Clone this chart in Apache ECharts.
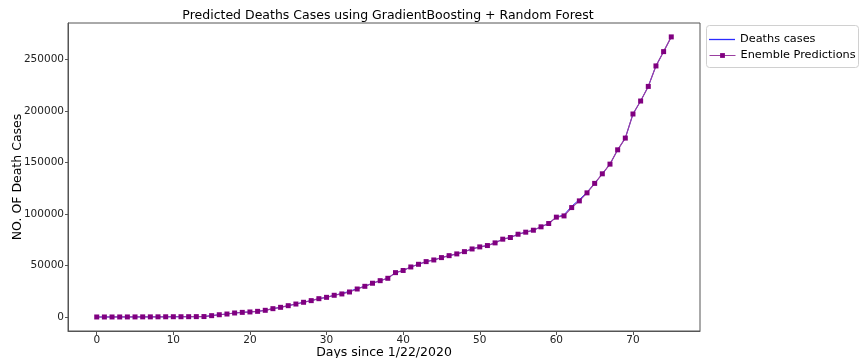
<!DOCTYPE html>
<html>
<head>
<meta charset="utf-8">
<script src="https://cdn.jsdelivr.net/npm/echarts@6/dist/echarts.min.js"></script>
<style>
  html, body { margin: 0; padding: 0; background: #fff; }
  #chart { width: 860px; height: 358px; }
</style>
</head>
<body>
<div id="chart"></div>
<script>
// Day index since 1/22/2020
const days = Array.from({ length: 76 }, (_, i) => i);

// Reported cumulative deaths
const deathsCases = [
  20, 20, 30, 40, 60, 80, 130, 130, 170, 210,
  260, 260, 300, 360, 430, 1300, 2200, 2900, 3900, 4500,
  4900, 5500, 6500, 8100, 9400, 11000, 12600, 14300, 15900, 17800,
  19100, 21100, 22900, 25000, 27600, 29900, 32800, 35300, 37600, 43100,
  45200, 48600, 51200, 53800, 55400, 57700, 59600, 61300, 63500, 66100,
  68100, 69400, 72000, 75600, 77200, 80400, 82400, 84300, 87600, 90800,
  97000, 99200, 107600, 114000, 121200, 129800, 139100, 148500, 162400, 173800,
  197200, 209800, 224000, 243900, 257800, 272100
];

// Ensemble (GradientBoosting + Random Forest) predictions
const ensemblePredictions = [
  20, 20, 30, 40, 60, 80, 130, 130, 170, 210,
  260, 260, 300, 360, 430, 1300, 2200, 2900, 3900, 4500,
  4900, 5500, 6500, 8100, 9400, 11000, 12600, 14300, 15900, 17800,
  19100, 21100, 22400, 24300, 27200, 29800, 32800, 35300, 37600, 43100,
  45200, 48600, 51200, 53800, 55400, 57700, 59600, 61300, 63500, 66100,
  68100, 69400, 72000, 75600, 77200, 80400, 82400, 84300, 87600, 90800,
  97000, 98200, 106300, 112800, 120600, 129800, 139100, 148500, 162400, 173800,
  197200, 209800, 224000, 243900, 257800, 272100
];

const xTicks = [0, 10, 20, 30, 40, 50, 60, 70];
const yTicks = [0, 50000, 100000, 150000, 200000, 250000];

const FONT = 'DejaVu Sans';
const AXIS_COLOR = '#555';
const chart = echarts.init(document.getElementById('chart'), null, { renderer: 'canvas' });

const legendText = { fontFamily: FONT, fontSize: 11.3, color: '#000' };

chart.setOption({
  animation: false,
  backgroundColor: '#ffffff',
  textStyle: { fontFamily: FONT },
  title: {
    text: 'Predicted Deaths Cases using GradientBoosting + Random Forest',
    left: 383,
    textAlign: 'center',
    top: 4,
    textStyle: { fontFamily: FONT, fontSize: 12.5, fontWeight: 'normal', color: '#000' }
  },
  // legend frame
  graphic: [{
    type: 'rect',
    left: 706,
    top: 25,
    shape: { width: 152, height: 42, r: 3 },
    style: { fill: '#fff', stroke: '#d0d0d0', lineWidth: 1 },
    z: 1
  }],
  legend: [
    {
      left: 709,
      top: 34,
      padding: 0,
      icon: 'rect',
      itemWidth: 26,
      itemHeight: 1.3,
      textStyle: legendText,
      data: ['Deaths cases'],
      z: 5
    },
    {
      left: 709,
      top: 50,
      padding: 0,
      itemWidth: 26,
      itemHeight: 6,
      lineStyle: { width: 1 },
      textStyle: legendText,
      data: ['Enemble Predictions'],
      z: 5
    }
  ],
  grid: {
    left: 68,
    right: 160,
    top: 23,
    bottom: 27,
    show: true,
    borderColor: AXIS_COLOR,
    borderWidth: 1,
    containLabel: false,
    outerBoundsMode: 'none'
  },
  xAxis: {
    type: 'value',
    min: -3.75,
    max: 78.75,
    name: 'Days since 1/22/2020',
    nameLocation: 'middle',
    nameGap: 15,
    nameMoveOverlap: false,
    nameTextStyle: { fontFamily: FONT, fontSize: 12.5, color: '#000', verticalAlign: 'top' },
    axisLine: { show: true, onZero: false, lineStyle: { color: AXIS_COLOR } },
    axisTick: { show: true, length: 4, customValues: xTicks, lineStyle: { color: AXIS_COLOR } },
    axisLabel: { customValues: xTicks, fontSize: 10.5, color: '#222', margin: 4 },
    splitLine: { show: false }
  },
  yAxis: {
    type: 'value',
    min: -13600,
    max: 285600,
    name: 'NO. OF Death Cases',
    nameLocation: 'middle',
    nameGap: 44,
    nameMoveOverlap: false,
    nameRotate: 90,
    nameTextStyle: { fontFamily: FONT, fontSize: 12.5, color: '#000' },
    axisLine: { show: true, onZero: false, lineStyle: { color: AXIS_COLOR } },
    axisTick: { show: true, length: 3, customValues: yTicks, lineStyle: { color: AXIS_COLOR } },
    axisLabel: {
      customValues: yTicks,
      fontSize: 10.5,
      color: '#222',
      margin: 4,
      formatter: v => String(v)
    },
    splitLine: { show: false }
  },
  series: [
    {
      name: 'Deaths cases',
      type: 'line',
      data: days.map((d, i) => [d, deathsCases[i]]),
      symbol: 'none',
      lineStyle: { color: '#2b2bff', width: 1 },
      itemStyle: { color: '#2b2bff' },
      z: 2
    },
    {
      name: 'Enemble Predictions',
      type: 'line',
      data: days.map((d, i) => [d, ensemblePredictions[i]]),
      symbol: 'rect',
      symbolSize: 5,
      lineStyle: { color: '#9a3fa0', width: 1.2 },
      itemStyle: { color: '#800080' },
      z: 3
    }
  ]
});
</script>
</body>
</html>
